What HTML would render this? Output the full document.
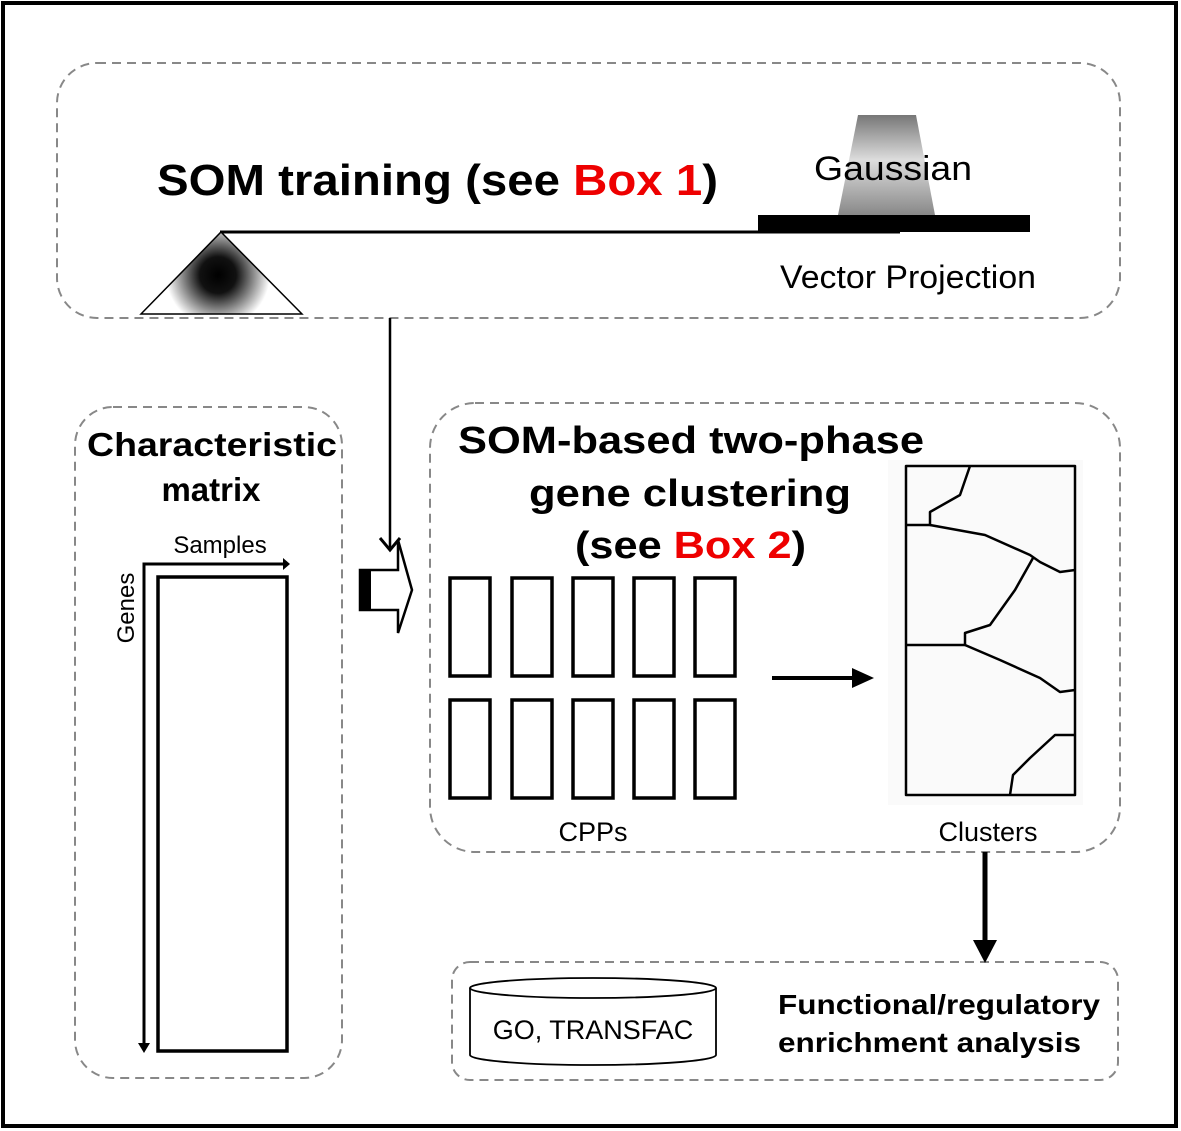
<!DOCTYPE html>
<html><head><meta charset="utf-8"><style>
html,body{margin:0;padding:0;background:#fff;}
svg{display:block;font-family:"Liberation Sans",Arial,sans-serif;}
</style></head><body>
<svg width="1181" height="1131" viewBox="0 0 1181 1131" xmlns="http://www.w3.org/2000/svg">
<defs>
<radialGradient id="rg" gradientUnits="userSpaceOnUse" cx="218" cy="275" r="52">
<stop offset="0" stop-color="#000"/><stop offset="0.35" stop-color="#111"/><stop offset="1" stop-color="#fff"/>
</radialGradient>
<linearGradient id="lg" x1="0" y1="0" x2="0" y2="1">
<stop offset="0" stop-color="#777"/><stop offset="0.45" stop-color="#ddd"/><stop offset="1" stop-color="#888"/>
</linearGradient>
</defs>
<rect x="3" y="3" width="1173" height="1123" fill="#fff" stroke="#000" stroke-width="4"/>
<g fill="none" stroke="#888" stroke-width="2" stroke-dasharray="9,6">
<rect x="57" y="63" width="1063" height="255" rx="40"/>
<rect x="75" y="407" width="267" height="671" rx="38"/>
<rect x="430" y="403" width="690" height="449" rx="45"/>
<rect x="452" y="962" width="666" height="118" rx="18"/>
</g>
<!-- top section -->
<text x="157" y="195" font-size="44" font-weight="bold" textLength="561" lengthAdjust="spacingAndGlyphs">SOM training (see <tspan fill="#e00">Box 1</tspan>)</text>
<polygon points="858,115 916,115 935,215 838,215" fill="url(#lg)"/>
<text x="814" y="180" font-size="34" textLength="158" lengthAdjust="spacingAndGlyphs">Gaussian</text>
<rect x="758" y="215" width="272" height="17" fill="#000"/>
<line x1="220" y1="232" x2="900" y2="232" stroke="#000" stroke-width="3"/>
<polygon points="221,232 302,314 141,314" fill="url(#rg)" stroke="#000" stroke-width="1.5"/>
<text x="780" y="288" font-size="32" textLength="256" lengthAdjust="spacingAndGlyphs">Vector Projection</text>
<!-- down arrow -->
<line x1="390" y1="318" x2="390" y2="548" stroke="#000" stroke-width="2.5"/>
<polyline points="380,538 390,550 400,538" fill="none" stroke="#000" stroke-width="3"/>
<!-- hollow arrow -->
<polygon points="360,570 398,570 398,540 412,590 398,633 398,610 360,610" fill="#fff" stroke="#000" stroke-width="2.5"/>
<rect x="360" y="570" width="11" height="40" fill="#000"/>
<!-- left box -->
<text x="87" y="456" font-size="33" font-weight="bold" textLength="250" lengthAdjust="spacingAndGlyphs">Characteristic</text>
<text x="211" y="501" font-size="33" font-weight="bold" text-anchor="middle">matrix</text>
<text x="220" y="553" font-size="24" text-anchor="middle">Samples</text>
<polyline points="144,1045 144,564 283,564" fill="none" stroke="#000" stroke-width="3"/>
<polygon points="283,558 290,564 283,570" fill="#000"/>
<polygon points="138,1043 150,1043 144,1053" fill="#000"/>
<text transform="translate(134,608) rotate(-90)" font-size="24" text-anchor="middle">Genes</text>
<rect x="158" y="577" width="129" height="474" fill="none" stroke="#000" stroke-width="3.5"/>
<!-- middle box -->
<text x="458" y="453" font-size="38" font-weight="bold" textLength="466" lengthAdjust="spacingAndGlyphs">SOM-based two-phase</text>
<text x="529" y="506" font-size="38" font-weight="bold" textLength="322" lengthAdjust="spacingAndGlyphs">gene clustering</text>
<text x="575" y="558" font-size="38" font-weight="bold" textLength="231" lengthAdjust="spacingAndGlyphs">(see <tspan fill="#e00">Box 2</tspan>)</text>
<g fill="none" stroke="#000" stroke-width="3.5">
<rect x="450" y="578" width="40" height="98"/><rect x="512" y="578" width="40" height="98"/><rect x="573" y="578" width="40" height="98"/><rect x="634" y="578" width="40" height="98"/><rect x="695" y="578" width="40" height="98"/>
<rect x="450" y="700" width="40" height="98"/><rect x="512" y="700" width="40" height="98"/><rect x="573" y="700" width="40" height="98"/><rect x="634" y="700" width="40" height="98"/><rect x="695" y="700" width="40" height="98"/>
</g>
<line x1="772" y1="678" x2="858" y2="678" stroke="#000" stroke-width="4"/>
<polygon points="852,668 874,678 852,688" fill="#000"/>
<rect x="888" y="460" width="195" height="345" fill="#fafafa"/>
<g fill="none" stroke="#000" stroke-width="2.5" stroke-linejoin="round">
<rect x="906" y="466" width="169" height="329"/>
<polyline points="970,466 960,495 930,512 930,525 906,525"/>
<polyline points="930,525 985,535 1030,555 1040,562 1060,572 1075,570"/>
<polyline points="1033,558 1015,590 990,625 965,633 965,645 906,645"/>
<polyline points="965,645 1000,660 1040,678 1060,692 1075,690"/>
<polyline points="1075,735 1055,735 1030,758 1013,775 1010,795"/>
</g>
<text x="593" y="841" font-size="27" text-anchor="middle">CPPs</text>
<text x="988" y="841" font-size="27" text-anchor="middle">Clusters</text>
<!-- down arrow to bottom -->
<line x1="985" y1="852" x2="985" y2="945" stroke="#000" stroke-width="5"/>
<polygon points="973,940 997,940 985,963" fill="#000"/>
<!-- bottom box -->
<path d="M470,988 L470,1055 A123,10 0 0 0 716,1055 L716,988" fill="#fff" stroke="#000" stroke-width="1.8"/>
<ellipse cx="593" cy="988" rx="123" ry="10" fill="#fff" stroke="#000" stroke-width="1.8"/>
<text x="593" y="1039" font-size="27" text-anchor="middle">GO, TRANSFAC</text>
<text x="778" y="1014" font-size="28" font-weight="bold" textLength="322" lengthAdjust="spacingAndGlyphs">Functional/regulatory</text>
<text x="778" y="1052" font-size="28" font-weight="bold" textLength="303" lengthAdjust="spacingAndGlyphs">enrichment analysis</text>
</svg>
</body></html>
